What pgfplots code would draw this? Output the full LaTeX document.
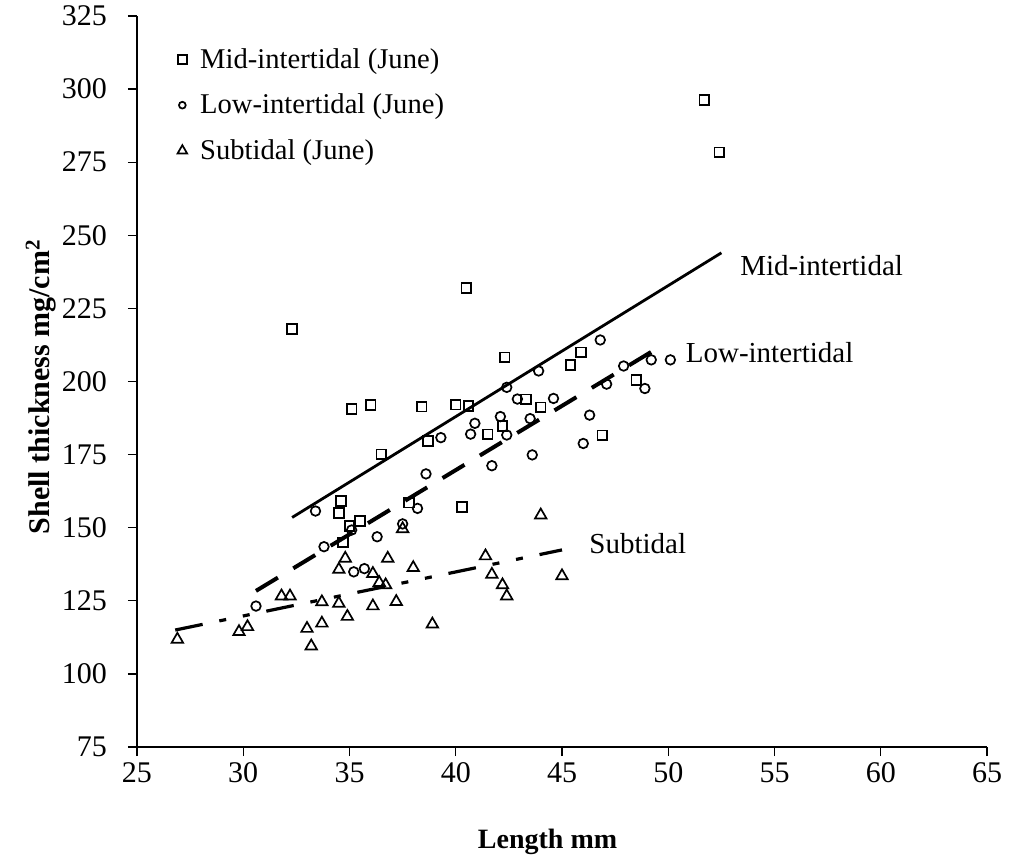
\documentclass[border=0pt]{standalone}
\usepackage{fontspec}
\setmainfont{Liberation Serif}
\usepackage{pgfplots}
\pgfplotsset{compat=1.18}
\begin{document}
\begin{tikzpicture}
\useasboundingbox (-68.5bp,-58bp) rectangle (436bp,373.5bp);
\begin{axis}[
  scale only axis, width=425bp, height=365.5bp,
  xmin=25, xmax=65, ymin=75, ymax=325,
  xtick={25,30,...,65}, ytick={75,100,...,325},
  axis lines*=left,
  axis line style={line width=0.65bp, black},
  tick align=outside, major tick length=4.5bp,
  tick style={line width=0.65bp, black},
  /pgf/number format/assume math mode=true,
  tick label style={font=\fontsize{15bp}{18bp}\selectfont},
  yticklabel shift=7bp,
  xlabel={\textbf{Length mm}},
  ylabel={\textbf{Shell thickness mg/cm\textsuperscript{2}}},
  xlabel style={font=\fontsize{14bp}{17bp}\selectfont, at={(axis description cs:0.483,-0.1395)}, anchor=base},
  ylabel style={font=\fontsize{15bp}{18bp}\selectfont, at={(axis description cs:-0.1024,0.493)}, anchor=base, rotate=0},
  clip=false,
  legend style={draw=none, fill=none, at={(axis description cs:0.0413,0.962)}, anchor=north west,
    font=\fontsize{14.3bp}{17bp}\selectfont, row sep=7.4bp, inner sep=0pt},
  legend cell align=left,
  legend image code/.code={\path (0bp,0bp) (11bp,0bp); \draw[#1,mark repeat=2,mark phase=2] plot coordinates {(0bp,0bp)(4.5bp,0bp)(9bp,0bp)};},
]
% Mid-intertidal (June)
\addplot[only marks, mark=square, mark size=2.4bp, line width=0.85bp, black,
  legend image post style={mark size=2.2bp}] coordinates {
(32.3,218) (35.1,190.6) (36.0,192) (38.4,191.4) (36.5,175.1) (34.6,159.1)
(34.5,155) (35.0,150.6) (35.5,152.3) (34.7,145) (38.7,179.6) (42.3,208.3)
(40.0,192.1) (40.6,191.6) (45.4,205.6) (45.9,210) (43.3,193.9) (44.0,191.2)
(42.2,184.8) (41.5,181.9) (46.9,181.6) (48.5,200.5) (37.8,158.6) (40.3,157.1)
(40.5,232) (51.7,296.3) (52.4,278.4)
};
\addlegendentry{Mid-intertidal (June)}
% Low-intertidal (June)
\addplot[only marks, mark=o, mark size=2.4bp, line width=0.85bp, black,
  legend image post style={mark size=1.7bp}] coordinates {
(33.4,155.7) (38.2,156.6) (36.3,146.9) (33.8,143.5) (37.5,151.3) (38.6,168.4)
(35.1,149.2) (35.2,134.9) (35.7,136.0) (30.6,123.2) (46.8,214.2) (43.9,203.6)
(42.4,198) (42.9,194) (44.6,194.2) (40.9,185.7) (40.7,182) (39.3,180.8)
(42.1,188) (43.5,187.3) (42.4,181.7) (46.3,188.5) (46.0,178.8) (43.6,174.9)
(41.7,171.2) (47.9,205.3) (47.1,199.1) (49.2,207.4) (50.1,207.4) (48.9,197.6)
};
\addlegendentry{Low-intertidal (June)}
% Subtidal (June)
\addplot[only marks, mark=triangle, mark size=3.3bp, line width=0.85bp, black,
  legend image post style={mark size=2.8bp}] coordinates {
(26.9,111.8) (29.8,114.4) (30.2,116.1) (31.8,126.6) (32.2,126.6) (33.0,115.5)
(33.2,109.5) (33.7,117.3) (33.7,124.6) (34.5,124.1) (34.5,135.7) (34.8,139.5)
(34.9,119.6) (36.1,123.2) (36.1,134.3) (36.4,131.2) (36.7,130.4) (36.8,139.5)
(37.2,124.7) (38.0,136.3) (38.9,117.0) (37.5,149.6) (44.0,154.3) (41.4,140.3)
(41.7,134.0) (42.2,130.4) (42.4,126.6) (45.0,133.5)
};
\addlegendentry{Subtidal (June)}
% regression lines
\addplot[forget plot, black, line width=1.4bp] coordinates {(32.3,153.5) (52.5,244)};
\addplot[forget plot, black, line width=2bp, dash pattern=on 12.8bp off 9bp] coordinates {(30.6,128.4) (49.4,211)};
\addplot[forget plot, black, line width=1.6bp, dash pattern=on 14bp off 8.5bp on 3.5bp off 8.5bp on 3.5bp off 8.5bp] coordinates {(26.8,115) (45.0,142.4)};
\node[anchor=base west, inner sep=0pt, font=\fontsize{14.5bp}{18bp}\selectfont] at (axis cs:53.37,236.4) {Mid-intertidal};
\node[anchor=base west, inner sep=0pt, font=\fontsize{14.5bp}{18bp}\selectfont] at (axis cs:50.81,206.4) {Low-intertidal};
\node[anchor=base west, inner sep=0pt, font=\fontsize{14.5bp}{18bp}\selectfont] at (axis cs:46.27,141.2) {Subtidal};
\end{axis}
\end{tikzpicture}
\end{document}
